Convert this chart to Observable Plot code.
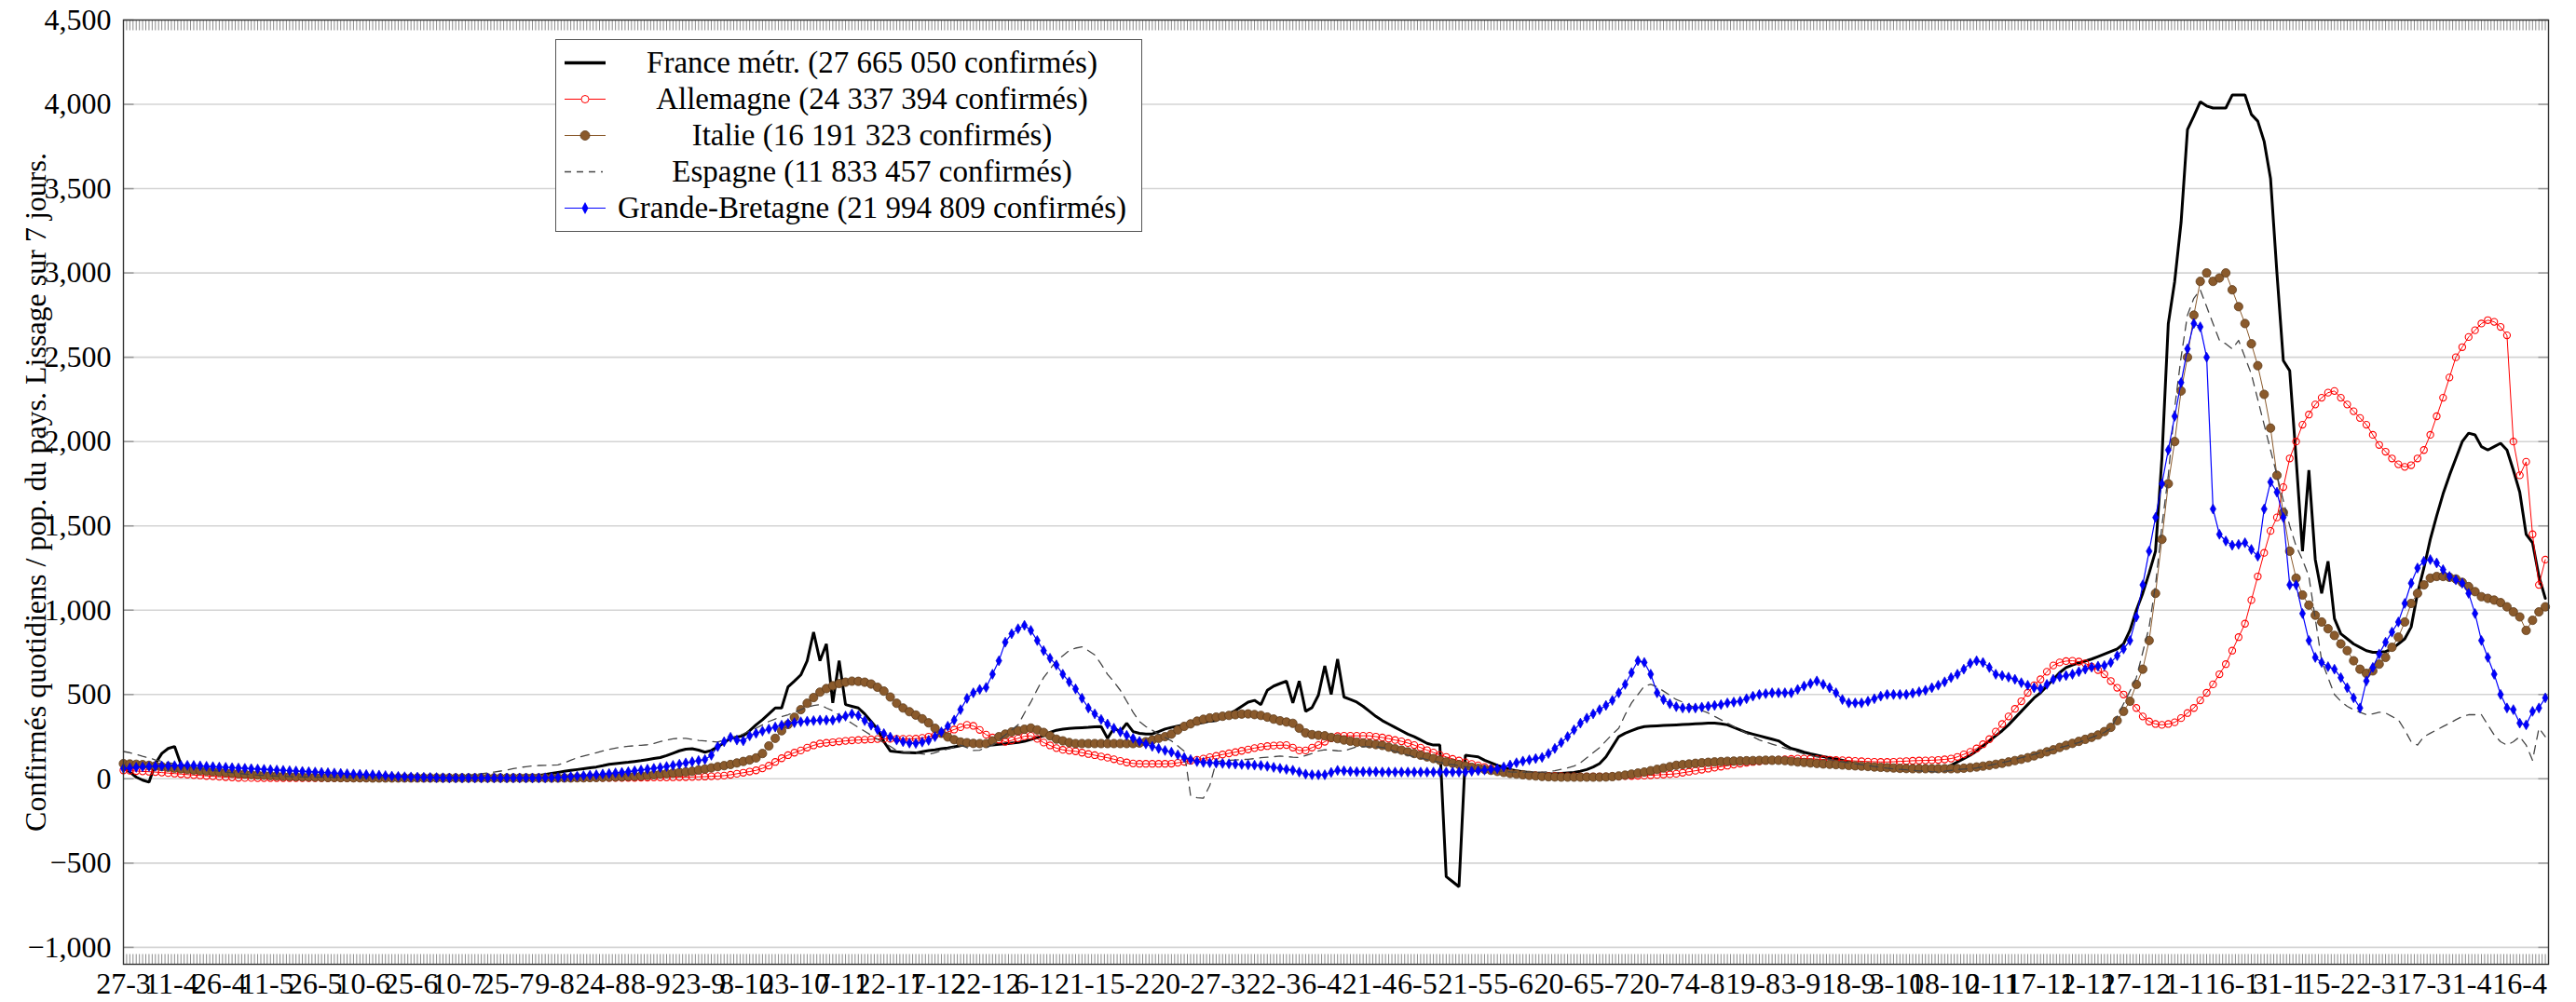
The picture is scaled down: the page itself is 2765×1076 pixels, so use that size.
<!DOCTYPE html>
<html>
<head>
<meta charset="utf-8">
<script src="https://cdn.jsdelivr.net/npm/d3@7"></script>
<script src="https://cdn.jsdelivr.net/npm/@observablehq/plot@0.6"></script>
<style>
  html, body { margin: 0; padding: 0; background: #fff; }
  #wrap { position: relative; width: 2765px; height: 1076px; overflow: hidden; }
  #legend {
    position: absolute; left: 596px; top: 42px; width: 630px; height: 207px;
    box-sizing: border-box; border: 1.5px solid #555; background: #fff;
    padding-top: 5px;
    font-family: "Liberation Serif", "DejaVu Serif", serif; font-size: 33px; color: #000;
  }
  .row { display: flex; align-items: center; height: 39px; }
  .row svg { flex: 0 0 60px; }
  .row span { flex: 1; text-align: center; padding-right: 10px; white-space: nowrap; line-height: 39px; }
</style>
</head>
<body>
<div id="wrap"><div id="chart"></div><div id="legend"></div></div>
<script>
// ---- data: one value every STEP days, starting 27-3-2020 (day 0) ----
const STEP = 2;
const LAST_DAY = 759;

const xTickLabels = ["27-3","11-4","26-4","11-5","26-5","10-6","25-6","10-7","25-7","9-8","24-8","8-9","23-9","8-10","23-10","7-11","22-11","7-12","22-12","6-1","21-1","5-2","20-2","7-3","22-3","6-4","21-4","6-5","21-5","5-6","20-6","5-7","20-7","4-8","19-8","3-9","18-9","3-10","18-10","2-11","17-11","2-12","17-12","1-1","16-1","31-1","15-2","2-3","17-3","1-4","16-4"];
const xTickStep = 15;
const yTicks = [-1000, -500, 0, 500, 1000, 1500, 2000, 2500, 3000, 3500, 4000, 4500];
const yDomain = [-1100, 4500];

const legendLabels = [
  "France métr. (27 665 050 confirmés)",
  "Allemagne (24 337 394 confirmés)",
  "Italie (16 191 323 confirmés)",
  "Espagne (11 833 457 confirmés)",
  "Grande-Bretagne (21 994 809 confirmés)"
];
const yLabel = "Confirmés quotidiens / pop. du pays. Lissage sur 7 jours.";

const FRANCE = [
70,40,10,-8,-20,90,150,180,192,85,
65,55,48,42,38,34,31,28,25,22,
20,19,18,17,16,15,15,14,14,13,
12,12,11,11,10,10,10,9,9,9,
8,8,8,8,8,8,8,8,8,9,
9,9,10,10,10,11,12,12,13,14,
15,16,17,18,19,20,26,32,38,44,
50,55,60,65,70,78,86,90,94,98,
103,108,114,120,126,138,152,166,176,178,
170,158,168,190,215,240,248,255,285,320,
350,385,420,420,545,580,616,700,870,700,
800,450,700,440,430,420,385,340,295,220,
165,160,157,155,153,160,167,172,178,183,
190,197,205,208,205,202,200,204,208,212,
216,222,233,244,255,275,288,294,298,301,
303,305,308,310,240,300,280,330,280,270,
266,266,280,295,305,313,320,324,328,334,
342,346,365,385,405,430,455,465,440,525,
550,565,579,450,580,400,422,496,670,500,
710,485,470,455,430,400,370,345,325,305,
285,265,250,230,210,200,200,-580,-610,-640,
140,135,130,110,95,80,68,55,48,42,
38,34,31,30,30,32,35,38,45,55,
70,90,130,190,250,270,285,300,310,312,
314,316,318,320,322,324,326,328,330,330,
326,320,305,290,275,265,255,245,235,225,
200,180,170,158,148,140,132,125,118,110,
100,90,80,70,60,58,56,54,52,50,
50,52,54,56,58,65,80,100,120,140,
165,195,225,255,285,320,360,400,440,480,
510,550,590,630,660,675,688,698,710,725,
740,755,770,800,880,1000,1100,1220,1350,1900,
2700,2950,3300,3850,3930,4015,3990,3978,3978,3978,
4055,4055,4055,3940,3900,3780,3560,3000,2480,2420,
1900,1350,1830,1300,1100,1290,950,860,830,800,
780,760,750,750,755,770,800,830,900,1100,
1250,1420,1560,1690,1800,1900,2000,2050,2040,1970,
1950,1970,1990,1950,1830,1700,1450,1400,1200,1070
];

const ALLEMAGNE = [
50,48,46,44,42,40,37,34,31,28,
25,22,20,17,15,12,10,8,6,5,
5,4,4,4,4,4,4,4,4,4,
4,4,4,4,4,4,4,4,4,4,
4,4,4,4,4,4,4,4,4,4,
4,5,5,5,5,5,5,5,5,5,
5,5,5,5,5,5,5,5,5,5,
5,6,6,6,6,6,6,6,6,6,
6,7,7,8,8,8,9,10,10,11,
12,13,15,16,19,24,30,36,43,50,
62,78,100,122,140,155,168,185,198,209,
213,217,221,225,228,230,232,234,236,237,
237,237,237,237,238,243,250,258,268,278,
292,306,320,314,290,262,245,232,220,228,
240,252,255,237,215,198,182,172,167,163,
155,147,140,132,125,116,106,97,91,89,
89,89,89,89,90,95,101,107,113,120,
128,136,144,151,158,166,174,182,189,194,
197,199,200,185,168,168,185,200,220,240,
253,255,255,255,255,255,250,245,238,230,
222,212,200,185,170,156,142,130,118,108,
98,88,80,70,60,50,42,35,30,25,
22,20,19,18,17,16,15,15,14,14,
14,14,14,15,15,16,17,18,19,21,
23,25,27,30,36,42,48,54,60,66,
72,78,84,90,95,100,104,107,110,113,
116,118,120,120,119,117,115,113,111,110,
108,106,104,102,101,100,100,101,103,105,
107,108,109,110,112,115,120,130,145,160,
180,205,235,280,325,370,415,460,510,555,
590,635,672,690,698,700,695,685,665,645,
620,580,540,500,460,420,370,340,325,320,
325,335,360,390,420,465,510,560,620,680,
760,840,920,1060,1200,1340,1470,1550,1730,1900,
2000,2100,2160,2220,2260,2290,2300,2260,2220,2180,
2140,2100,2040,1980,1940,1900,1865,1850,1860,1900,
1950,2040,2150,2260,2380,2500,2560,2620,2660,2700,
2720,2710,2680,2630,2000,1800,1880,1450,1150,1300
];

const ITALIE = [
90,88,86,84,80,76,72,68,63,59,
55,52,49,46,43,40,37,34,31,28,
25,23,21,19,17,15,14,13,12,11,
10,9,8,8,7,7,6,6,6,5,
5,5,5,5,5,5,5,5,5,5,
5,5,5,5,5,5,5,5,5,5,
5,5,5,5,5,5,5,5,5,5,
5,6,6,7,8,9,10,11,12,14,
15,17,20,24,28,31,34,38,41,45,
52,58,65,72,78,85,94,103,112,124,
150,195,240,285,322,365,410,448,482,514,
535,552,565,573,579,578,573,562,543,520,
485,448,420,398,378,356,332,300,270,248,
232,218,214,210,209,209,225,250,265,278,
285,294,301,290,275,255,235,225,215,209,
209,209,209,209,209,209,209,209,209,212,
220,230,240,250,265,290,311,326,342,353,
361,366,371,376,380,384,385,381,376,366,
354,344,337,329,300,272,262,258,255,245,
238,230,223,217,213,208,203,198,188,178,
170,160,150,140,130,120,110,100,92,84,
76,68,62,56,50,44,38,32,28,24,
20,17,14,12,11,10,10,10,10,10,
10,10,11,13,17,22,28,34,40,48,
56,64,72,80,84,88,92,95,98,100,
102,104,105,106,107,108,109,110,110,110,
108,104,100,97,94,91,88,86,84,82,
79,77,75,73,70,68,66,64,62,61,
60,60,60,60,60,60,60,60,63,66,
70,75,80,86,92,100,108,116,125,136,
148,160,172,186,198,210,222,234,246,260,
280,305,345,400,460,560,650,820,1100,1420,
1750,2000,2300,2500,2750,2950,3000,2950,2970,3000,
2900,2800,2700,2580,2450,2280,2080,1800,1580,1350,
1190,1090,1030,970,930,890,850,800,760,700,
650,625,640,680,720,780,840,930,1040,1100,
1150,1190,1200,1200,1195,1185,1165,1140,1110,1080,
1070,1060,1045,1020,990,960,880,940,990,1020
];

const ESPAGNE = [
162,155,145,134,124,112,104,96,88,80,
72,66,60,55,50,45,40,36,32,28,
25,22,20,18,16,14,13,12,11,10,
10,9,9,8,8,8,7,7,7,6,
6,6,6,6,6,6,7,7,8,9,
10,12,14,17,20,25,30,35,40,46,
52,60,67,72,76,79,80,81,82,95,
110,125,135,145,155,165,175,182,188,193,
196,199,202,210,220,230,237,241,240,234,
228,225,221,218,230,242,250,267,284,300,
320,340,355,368,380,395,410,425,435,440,
420,403,378,354,329,305,282,258,235,214,
192,168,160,156,152,148,144,155,166,177,
188,200,185,168,170,185,200,230,260,290,
320,390,455,530,600,650,700,730,760,775,
783,760,735,680,620,575,525,460,395,340,
310,288,265,245,225,195,163,-100,-112,-115,
-40,100,108,110,112,114,116,120,125,128,
131,135,132,128,126,138,150,165,172,170,
166,164,178,190,190,190,190,186,175,163,
152,140,130,122,114,106,98,90,84,78,
72,66,61,56,51,47,44,41,40,40,
40,40,40,42,48,56,65,75,95,125,
155,185,225,265,300,380,450,500,550,560,
545,520,495,470,455,437,420,405,390,370,
350,330,310,290,270,250,230,218,206,194,
182,170,160,148,138,130,122,115,108,100,
95,89,84,78,73,68,63,59,56,53,
50,47,45,42,40,45,50,55,58,60,
64,72,80,88,96,105,115,125,135,145,
155,165,175,185,195,205,215,230,245,260,
275,300,370,445,520,600,750,900,1150,1500,
1800,2200,2500,2750,2850,2900,2800,2700,2600,2580,
2550,2600,2500,2400,2250,2100,1950,1800,1650,1500,
1380,1300,1200,950,700,600,500,460,430,410,
395,380,385,395,390,370,350,290,220,200,
250,270,290,310,330,350,370,380,380,380,
320,260,220,200,220,250,200,110,300,250
];

const GRANDE_BRETAGNE = [
61,64,68,71,73,75,76,77,78,79,
80,79,77,74,72,70,68,66,64,62,
60,58,56,54,52,50,48,46,44,42,
40,38,36,34,32,30,28,27,25,24,
22,19,16,14,12,11,10,9,8,7,
6,5,5,5,5,5,5,5,5,5,
5,5,5,5,5,5,6,7,8,10,
13,16,19,22,24,28,31,35,38,42,
47,52,57,62,67,73,80,87,94,101,
108,114,140,191,220,246,230,225,255,270,
283,295,307,318,328,333,338,342,345,348,
348,348,360,372,385,375,345,318,292,268,
248,230,220,212,210,218,228,250,278,312,
348,410,477,510,530,542,620,700,810,860,
890,910,880,820,760,715,675,620,575,533,
478,420,385,352,325,300,278,258,240,222,
207,192,180,168,158,142,126,114,102,97,
95,93,91,89,87,85,83,81,79,74,
68,62,56,51,40,28,24,24,24,38,
50,47,44,42,42,42,42,40,40,40,
40,40,40,40,40,40,40,40,40,40,
40,45,48,52,56,60,70,82,95,105,
112,120,127,150,180,215,250,290,330,360,
385,410,435,465,510,560,630,700,690,620,
510,470,445,428,420,420,420,425,430,435,
440,450,455,460,475,490,500,505,510,510,
510,510,530,550,565,580,560,540,510,470,
450,450,450,460,475,490,500,500,500,500,
508,516,525,540,555,575,600,620,650,685,
700,690,660,620,612,603,590,570,555,540,
535,560,590,605,612,620,635,650,662,668,
672,690,730,770,820,960,1150,1350,1550,1750,
1950,2150,2350,2550,2700,2680,2500,1600,1450,1410,
1385,1390,1400,1360,1320,1600,1760,1700,1550,1150,
1150,980,820,720,690,665,650,600,540,480,
420,580,660,740,810,870,930,1040,1160,1250,
1290,1300,1280,1240,1200,1180,1160,1100,980,820,
720,620,500,420,410,330,320,400,420,480
];

// ---- build rows ----
const toRows = vals => vals.map((v, i) => ({day: i * STEP, value: v}));
const fr = toRows(FRANCE), de = toRows(ALLEMAGNE), it = toRows(ITALIE),
      es = toRows(ESPAGNE), gb = toRows(GRANDE_BRETAGNE);

const xTickDays = xTickLabels.map((_, i) => i * xTickStep);
const allDays = d3.range(0, LAST_DAY + 1);
const fmtY = d3.format(",");

// custom tick glyphs (short strokes) used for the dense pgfplots-like ticks
const tickDown  = {draw(c, s) { const l = Math.sqrt(s / Math.PI); c.moveTo(0, 0); c.lineTo(0, l); }};
const tickUp    = {draw(c, s) { const l = Math.sqrt(s / Math.PI); c.moveTo(0, 0); c.lineTo(0, -l); }};
const tickRight = {draw(c, s) { const l = Math.sqrt(s / Math.PI); c.moveTo(0, 0); c.lineTo(l, 0); }};
const tickLeft  = {draw(c, s) { const l = Math.sqrt(s / Math.PI); c.moveTo(0, 0); c.lineTo(-l, 0); }};

const BROWN = "#8a5a2c";
const FONT = "Liberation Serif, DejaVu Serif, serif";

const chart = Plot.plot({
  width: 2765,
  height: 1076,
  marginLeft: 132,
  marginRight: 30,
  marginTop: 21,
  marginBottom: 41,
  style: {fontFamily: FONT, fontSize: "32px", color: "#000", background: "#fff"},
  x: {domain: [0, LAST_DAY], ticks: xTickDays, tickFormat: d => xTickLabels[Math.round(d / xTickStep)],
      tickSize: 0, tickPadding: 9, label: null},
  y: {domain: yDomain, ticks: yTicks, tickFormat: d => fmtY(d), tickSize: 0, tickPadding: 13, label: null},
  marks: [
    Plot.ruleY(yTicks, {stroke: "#d4d4d4", strokeWidth: 1.6}),
    Plot.dot(allDays, {x: d => d, y: () => yDomain[1], symbol: tickDown, r: 11, fill: "none", stroke: "#8c8c8c", strokeWidth: 1}),
    Plot.dot(allDays, {x: d => d, y: () => yDomain[0], symbol: tickUp, r: 11, fill: "none", stroke: "#8c8c8c", strokeWidth: 1}),
    Plot.dot(yTicks, {x: () => 0, y: d => d, symbol: tickRight, r: 11, fill: "none", stroke: "#999", strokeWidth: 1.5}),
    Plot.dot(yTicks, {x: () => LAST_DAY, y: d => d, symbol: tickLeft, r: 11, fill: "none", stroke: "#999", strokeWidth: 1.5}),

    Plot.line(fr, {x: "day", y: "value", stroke: "#000", strokeWidth: 3, strokeLinejoin: "miter"}),

    Plot.line(de, {x: "day", y: "value", stroke: "#ff0000", strokeWidth: 1}),
    Plot.dot(de, {x: "day", y: "value", r: 3.6, fill: "none", stroke: "#ff0000", strokeWidth: 1.1}),

    Plot.line(it, {x: "day", y: "value", stroke: BROWN, strokeWidth: 1}),
    Plot.dot(it, {x: "day", y: "value", r: 4.6, fill: BROWN, stroke: "#5e3b1a", strokeWidth: 0.8}),

    Plot.line(es, {x: "day", y: "value", stroke: "#444", strokeWidth: 1.3, strokeDasharray: "9,7"}),

    Plot.line(gb, {x: "day", y: "value", stroke: "#0000ff", strokeWidth: 1.2}),
    Plot.dot(gb, {x: "day", y: "value", symbol: "diamond", r: 3.3, fill: "#0000ff", stroke: "#0000cc", strokeWidth: 0.6}),

    Plot.frame({stroke: "#333", strokeWidth: 1.4}),
    Plot.text([yLabel],
      {frameAnchor: "left", textAnchor: "middle", dx: -94, rotate: -90, text: d => d, fontSize: 32, fill: "#000"})
  ]
});
document.getElementById("chart").appendChild(chart);

// ---- legend (inside the plot, like pgfplots) ----
const samples = [
  `<line x1="9" y1="19.5" x2="53" y2="19.5" stroke="#000" stroke-width="3.5"/>`,
  `<line x1="9" y1="19.5" x2="53" y2="19.5" stroke="#ff0000" stroke-width="1"/><circle cx="31" cy="19.5" r="4" fill="#fff" stroke="#ff0000" stroke-width="1"/>`,
  `<line x1="9" y1="19.5" x2="53" y2="19.5" stroke="${BROWN}" stroke-width="1"/><circle cx="31" cy="19.5" r="5" fill="${BROWN}" stroke="#5e3b1a" stroke-width="0.8"/>`,
  `<line x1="9" y1="19.5" x2="50" y2="19.5" stroke="#444" stroke-width="1.3" stroke-dasharray="7,6"/>`,
  `<line x1="9" y1="19.5" x2="53" y2="19.5" stroke="#0000ff" stroke-width="1"/><path d="M31,13L34.5,19.5L31,26L27.5,19.5Z" fill="#0000ff"/>`
];
document.getElementById("legend").innerHTML = legendLabels.map((lab, i) =>
  `<div class="row"><svg width="60" height="39">${samples[i]}</svg><span>${lab}</span></div>`).join("");
</script>
</body>
</html>
